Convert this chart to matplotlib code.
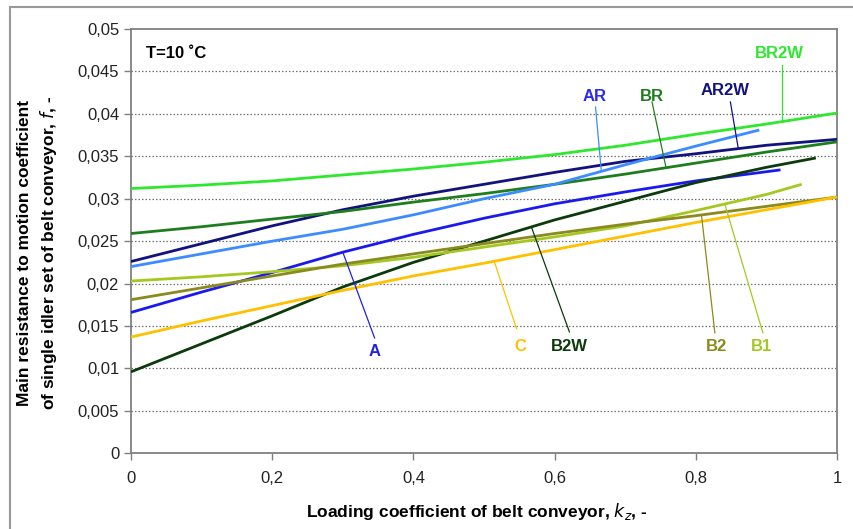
import matplotlib
matplotlib.use("Agg")
import matplotlib.pyplot as plt
from matplotlib.ticker import FuncFormatter, MultipleLocator
from matplotlib.patches import Rectangle

plt.rcParams['font.family'] = ['Liberation Sans', 'DejaVu Sans']

# ---- data ----
k_full = [0, 0.1, 0.2, 0.3, 0.4, 0.5, 0.6, 0.7, 0.8, 0.9, 1.0]

BR2W = [0.0312, 0.0316, 0.0321, 0.0328, 0.0335, 0.0343, 0.0352, 0.0363, 0.0376, 0.0388, 0.0401]
AR2W = [0.0226, 0.0247, 0.0268, 0.0287, 0.0303, 0.0317, 0.0331, 0.0344, 0.0353, 0.0363, 0.0370]
BR   = [0.0259, 0.0267, 0.0276, 0.0285, 0.0296, 0.0306, 0.0317, 0.0329, 0.0342, 0.0355, 0.0367]
C    = [0.0137, 0.0156, 0.0174, 0.0192, 0.0209, 0.0224, 0.0240, 0.0256, 0.0272, 0.0287, 0.0302]
B2   = [0.0181, 0.0195, 0.0209, 0.0223, 0.0235, 0.0247, 0.0259, 0.0270, 0.0280, 0.0291, 0.0302]

k_AR = [0, 0.1, 0.2, 0.3, 0.4, 0.5, 0.6, 0.7, 0.8, 0.89]
AR   = [0.0220, 0.0235, 0.0250, 0.0264, 0.0281, 0.0300, 0.0317, 0.0340, 0.0362, 0.0381]

k_A = [0, 0.1, 0.2, 0.3, 0.4, 0.5, 0.6, 0.7, 0.8, 0.92]
A   = [0.0166, 0.0190, 0.0213, 0.0237, 0.0258, 0.0277, 0.0294, 0.0308, 0.0321, 0.0334]

k_B2W = [0, 0.1, 0.2, 0.3, 0.4, 0.5, 0.6, 0.7, 0.8, 0.9, 0.97]
B2W   = [0.0096, 0.0129, 0.0162, 0.0196, 0.0225, 0.0250, 0.0275, 0.0297, 0.0319, 0.0337, 0.0348]

k_B1 = [0, 0.1, 0.2, 0.3, 0.4, 0.5, 0.6, 0.7, 0.8, 0.9, 0.95]
B1   = [0.0203, 0.0208, 0.0214, 0.0221, 0.0231, 0.0243, 0.0255, 0.0268, 0.0286, 0.0305, 0.0317]

series = [
    ("BR2W", k_full, BR2W, '#2EE82E'),
    ("AR2W", k_full, AR2W, '#12127E'),
    ("BR",   k_full, BR,   '#1E7E1E'),
    ("AR",   k_AR,   AR,   '#3C8CFF'),
    ("A",    k_A,    A,    '#1A1AF0'),
    ("B2W",  k_B2W,  B2W,  '#0B3A0B'),
    ("B1",   k_B1,   B1,   '#A4C820'),
    ("B2",   k_full, B2,   '#8A8A1E'),
    ("C",    k_full, C,    '#FFC000'),
]

# label annotations: (name, point on line, leader end, text position, text colour)
labels = [
    ("A",    (0.300, 0.0237), (0.345, 0.0136), (0.345, 0.0120), '#2020E0'),
    ("AR",   (0.666, 0.0334), (0.658, 0.0408), (0.657, 0.0421), '#2A2AF0'),
    ("BR",   (0.758, 0.0336), (0.738, 0.0414), (0.738, 0.0421), '#1E7E1E'),
    ("AR2W", (0.860, 0.0360), (0.849, 0.0414), (0.841, 0.0427), '#12127E'),
    ("BR2W", (0.922, 0.0390), (0.922, 0.0458), (0.919, 0.0471), '#2EE82E'),
    ("C",    (0.515, 0.0225), (0.546, 0.0147), (0.551, 0.0126), '#FFC000'),
    ("B2W",  (0.567, 0.0267), (0.621, 0.0143), (0.621, 0.0126), '#0B3A0B'),
    ("B2",   (0.808, 0.0281), (0.827, 0.0142), (0.829, 0.0126), '#8A8A1E'),
    ("B1",   (0.841, 0.0294), (0.895, 0.0142), (0.893, 0.0126), '#A4C820'),
]
leader_colors = {"A": '#2020E0', "AR": '#3C8CFF', "BR": '#1E7E1E', "AR2W": '#12127E',
                 "BR2W": '#2EE82E', "C": '#FFC000', "B2W": '#0B3A0B', "B2": '#8A8A1E',
                 "B1": '#A4C820'}

fig = plt.figure(figsize=(8.54, 5.29), dpi=100)
ax = fig.add_axes([131/854, 1-453.3/529, (837-131)/854, (453.3-29)/529])

gray = '#808080'
for yv in [0.005*i for i in range(1, 10)]:
    ax.axhline(yv, color='#707070', lw=0.9, ls=(0, (1.2, 1.6)), zorder=1)

for name, kx, fy, col in series:
    ax.plot(kx, fy, color=col, lw=2.0, solid_capstyle='butt', zorder=3)

for name, p0, p1, tp, tcol in labels:
    ax.plot([p0[0], p1[0]], [p0[1], p1[1]], color=leader_colors[name], lw=0.9, zorder=4)
    ax.text(tp[0], tp[1], name, color=tcol, fontsize=12, fontweight='bold',
            ha='center', va='center', zorder=5)

ax.text(0.021, 0.943, "T=10 \u02daC", transform=ax.transAxes, fontsize=12,
        fontweight='bold', ha='left', va='center')

ax.set_xlim(0, 1)
ax.set_ylim(0, 0.05)
ax.xaxis.set_major_locator(MultipleLocator(0.2))
ax.yaxis.set_major_locator(MultipleLocator(0.005))
fmt = FuncFormatter(lambda v, p: ('{:g}'.format(round(v, 4))).replace('.', ','))
ax.xaxis.set_major_formatter(fmt)
ax.yaxis.set_major_formatter(fmt)
ax.tick_params(direction='out', length=5, width=1.0, color=gray, labelsize=12,
               labelcolor='#222222')
ax.tick_params(axis='x', pad=8)
for s in ax.spines.values():
    s.set_color(gray)
    s.set_linewidth(1.3)

fig.text(477/854, 1-512/529, "Loading coefficient of belt conveyor, $\\mathbf{\\it{k}_z}$, -",
         fontsize=12.5, fontweight='bold', ha='center', va='center')
fig.text(38/854, 1-253/529,
         "Main resistance to motion coefficient\nof single idler set of belt conveyor, $\\mathbf{\\it{f}}$, -",
         fontsize=12.5, fontweight='bold', ha='center', va='center', rotation=90,
         linespacing=1.35, multialignment='center')

fig.patches.append(Rectangle((10/854, -0.02), 1.0, 1-7/529+0.02, transform=fig.transFigure,
                             fill=False, edgecolor='#999999', lw=1.5))

fig.savefig("out.png", dpi=100)
